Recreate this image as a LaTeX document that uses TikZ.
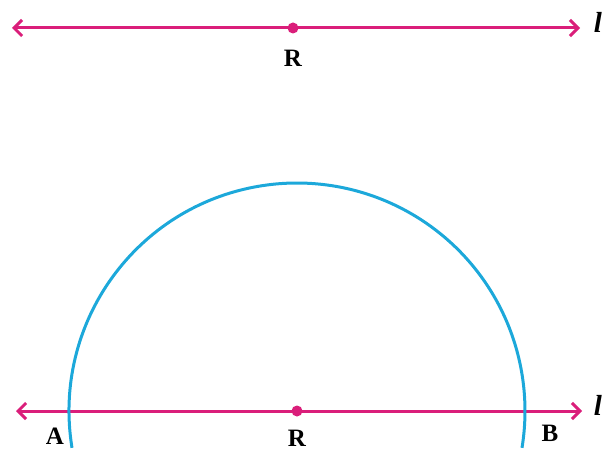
\documentclass[tikz,border=0pt]{standalone}
\usepackage{fontspec}
\setmainfont{Liberation Serif}
\usetikzlibrary{arrows.meta}
\definecolor{linepink}{RGB}{218,30,122}
\definecolor{arccyan}{RGB}{28,168,218}
\tikzset{
  pinkline/.style={linepink, line width=3pt, {Straight Barb[length=8pt,width=16pt]}-{Straight Barb[length=8pt,width=16pt]}},
  pt/.style={circle, fill=linepink, inner sep=0pt, minimum size=11pt},
  lbl/.style={font=\fontsize{25}{28}\selectfont\bfseries, inner sep=0pt}
}
\begin{document}
\begin{tikzpicture}[x=1pt,y=-1pt]
  \useasboundingbox (0,0) rectangle (614,452);
  % Upper line l with point R
  \coordinate (t1) at (12,28);
  \coordinate (t2) at (580,28);
  \draw[pinkline] (t1) -- (t2);
  \node[pt] (R1) at (293,28) {};
  \node[lbl] (R1lab) at (293,58) {R};
  \node[lbl, font=\fontsize{29}{32}\selectfont\bfseries\itshape] (l1) at (598,22) {l};
  % Lower line l, arc centred at R
  \coordinate (b1) at (16,411);
  \coordinate (b2) at (582,411);
  \draw[pinkline] (b1) -- (b2);
  \node[pt] (R2) at (297,411) {};
  \draw[arccyan, line width=3pt] ([shift={(170.7:228)}]R2.center) arc[start angle=170.7, end angle=369.3, radius=228];
  \node[lbl] (R2lab) at (297,438) {R};
  \node[lbl] (A) at (55,436) {A};
  \node[lbl] (B) at (550,433) {B};
  \node[lbl, font=\fontsize{29}{32}\selectfont\bfseries\itshape] (l2) at (598,405) {l};
\end{tikzpicture}
\end{document}
